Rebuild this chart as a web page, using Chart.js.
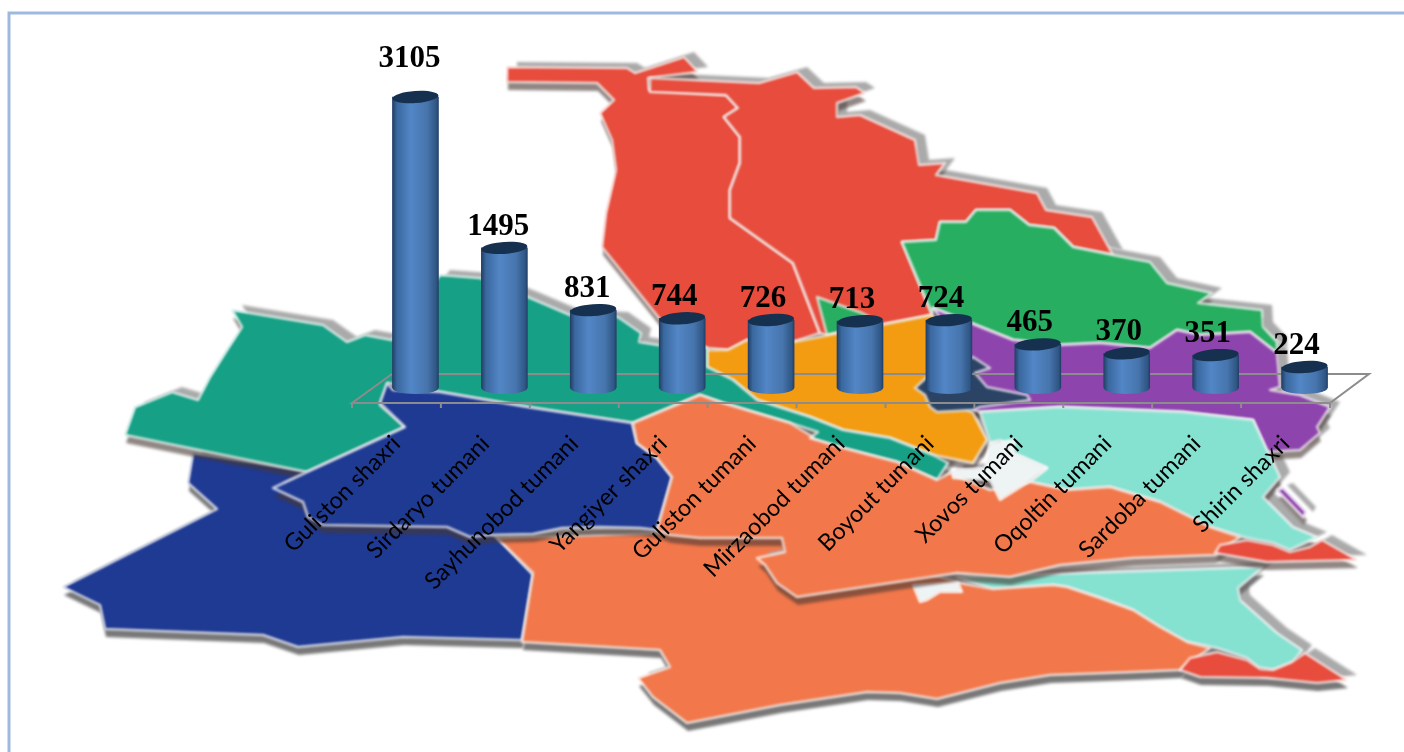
<!DOCTYPE html>
<html><head><meta charset="utf-8">
<style>html,body{margin:0;padding:0;background:#fff}canvas{display:block}</style>
<script src="https://cdn.jsdelivr.net/npm/chart.js@4"></script>
</head><body><canvas id="c" width="1404" height="752"></canvas>
<script>
const categories = ["Guliston shaxri","Sirdaryo tumani","Sayhunobod tumani","Yangiyer shaxri","Guliston tumani","Mirzaobod tumani","Boyout tumani","Xovos tumani","Oqoltin tumani","Sardoba tumani","Shirin shaxri"];
const values = [3105,1495,831,744,726,713,724,465,370,351,224];

/* Decorative background map (not data) */
const lowerMap = [
 ["#85e2d1",[[957,577],[1263,567],[1238,588],[1240,600],[1277,633],[1302,650],[1292,663],[1273,670],[1258,667],[1247,658],[1217,648],[1187,642],[1160,627],[1133,610],[1100,598],[1067,587],[1053,585],[993,589]]],
 ["#1f3a93",[[193,453],[188,483],[217,509],[63,587],[100,605],[105,629],[263,635],[298,647],[403,637],[517,640],[522,640],[533,575],[500,540],[480,525],[400,500],[300,470]]],
 ["#f2784b",[[497,538],[533,573],[522,642],[660,650],[670,667],[638,678],[653,697],[687,723],[780,705],[867,692],[900,693],[937,699],[1000,683],[1050,675],[1133,672],[1180,670],[1210,648],[1187,642],[1160,627],[1133,610],[1100,598],[1067,587],[1053,585],[993,589],[960,583],[900,565],[760,530]]],
 ["#e74c3c",[[1180,670],[1190,658],[1217,652],[1247,660],[1260,669],[1273,670],[1292,662],[1305,653],[1347,680],[1317,683],[1267,678],[1200,677]]],
 ["#eef3f4",[[913,585],[920,602],[927,600],[940,592],[962,592],[958,582]]]
];
const upperMap = [
 ["#e74c3c",[[507,67],[627,68],[635,73],[684,57],[698,72],[648,78],[649,90],[726,95],[738,108],[724,117],[740,137],[740,163],[730,190],[730,218],[793,263],[820,333],[793,342],[747,340],[728,350],[707,348],[663,323],[602,247],[606,213],[616,170],[612,140],[600,113],[614,100],[597,83],[507,82]]],
 ["#e74c3c",[[650,78],[759,83],[797,72],[814,88],[856,87],[865,93],[837,103],[837,117],[860,115],[915,140],[919,165],[945,163],[936,175],[1037,193],[1046,210],[1092,217],[1113,255],[1073,247],[1054,228],[1029,225],[1010,210],[976,210],[966,222],[940,222],[936,240],[902,242],[932,315],[827,335],[820,333],[793,263],[730,218],[730,190],[740,163],[740,137],[724,117],[738,108],[726,95],[650,92]]],
 ["#27ae60",[[817,297],[862,313],[880,322],[827,335]]],
 ["#27ae60",[[902,242],[936,240],[940,222],[966,222],[976,210],[1010,210],[1029,225],[1054,228],[1073,247],[1113,255],[1150,262],[1167,283],[1212,293],[1198,303],[1262,310],[1263,327],[1277,342],[1277,353],[1250,332],[1200,335],[1177,330],[1150,348],[1100,343],[1060,345],[1013,340],[933,308],[932,313]]],
 ["#8e44ad",[[933,308],[1013,340],[1060,345],[1100,343],[1150,348],[1177,330],[1200,335],[1250,332],[1277,353],[1280,387],[1270,390],[1300,395],[1330,407],[1317,427],[1320,433],[1300,450],[1267,452],[1253,420],[1183,412],[1060,407],[980,412],[950,400],[950,330]]],
 ["#f39c12",[[707,350],[728,350],[747,340],[793,342],[932,315],[950,340],[950,400],[973,413],[987,440],[973,463],[933,455],[890,438],[843,430],[810,417],[757,400],[733,380],[707,367]]],
 ["#16a085",[[232,310],[323,325],[347,342],[365,335],[392,340],[440,275],[480,278],[528,297],[570,315],[618,317],[641,333],[639,342],[658,345],[707,348],[707,367],[733,380],[757,400],[810,417],[843,430],[890,438],[933,455],[948,463],[937,480],[897,462],[843,448],[810,438],[818,432],[790,423],[723,403],[700,395],[633,423],[527,407],[440,392],[388,383],[380,405],[405,427],[307,472],[125,435],[135,407],[172,392],[198,400],[210,377],[227,350],[242,327]]],
 ["#85e2d1",[[980,412],[1060,407],[1183,412],[1253,420],[1267,450],[1280,477],[1263,497],[1293,527],[1317,537],[1290,550],[1273,543],[1247,538],[1210,527],[1160,502],[1110,487],[1067,490],[1030,482],[1047,468],[1013,453],[1000,440],[990,443]]],
 ["#1f3a93",[[387,383],[380,403],[405,427],[307,472],[273,488],[303,502],[308,517],[323,525],[447,527],[470,537],[490,535],[533,534],[562,528],[600,527],[640,528],[657,530],[672,477],[657,458],[637,443],[632,423],[527,407],[440,392],[393,390]]],
 ["#f2784b",[[633,423],[700,395],[723,403],[790,423],[813,437],[810,438],[843,448],[897,462],[937,480],[950,473],[990,490],[1030,482],[1067,490],[1110,487],[1160,502],[1210,527],[1240,537],[1217,553],[1215,555],[1133,558],[1060,565],[1010,577],[957,573],[890,583],[797,597],[777,583],[765,565],[757,558],[785,552],[782,538],[700,538],[670,535],[657,530],[672,477],[657,458],[637,443]]],
 ["#e74c3c",[[1215,553],[1220,545],[1247,540],[1273,545],[1290,552],[1310,547],[1322,540],[1357,560],[1267,562]]],
 ["#eef3f4",[[990,443],[1015,440],[1013,453],[1047,468],[1027,483],[1000,500],[990,480],[953,478],[953,470],[985,468]]],
 ["#2b4466",[[973,357],[990,368],[975,373],[987,387],[1027,395],[1030,400],[980,407],[973,410],[937,412],[930,407],[925,395],[915,388],[927,377]]],
 ["#8e44ad",[[1277,490],[1283,488],[1306,512],[1303,517]]]
];

function tracePoly(ctx, pts, dx, dy){
  ctx.beginPath();
  pts.forEach((p,i)=> i?ctx.lineTo(p[0]+dx,p[1]+dy):ctx.moveTo(p[0]+dx,p[1]+dy));
  ctx.closePath();
}
function paintLayer(ctx, shapes, bottomShade){
  ctx.save();
  ctx.filter='blur(1.6px)';
  ctx.fillStyle='rgba(165,165,165,.95)';
  shapes.forEach(s=>{tracePoly(ctx,s[1],10,-5);ctx.fill();});
  ctx.fillStyle=bottomShade;
  shapes.forEach(s=>{tracePoly(ctx,s[1],1,8);ctx.fill();});
  ctx.filter='blur(1px)';
  shapes.forEach(s=>{
    tracePoly(ctx,s[1],0,0);
    ctx.fillStyle=s[0];ctx.fill();
    ctx.strokeStyle='rgba(255,255,255,.7)';ctx.lineWidth=2.5;ctx.lineJoin='round';ctx.stroke();
  });
  ctx.restore();
}

const DEPTH_BACK = 14, DEPTH_FRONT = 15, SHIFT_X = 19, BAR_R = 23, CAP_RY = 6, CAP_TILT = -0.07;

const backdrop = {
  id:'backdrop',
  beforeDraw(chart){
    const ctx=chart.ctx;
    ctx.save();
    ctx.fillStyle='#fff';ctx.fillRect(0,0,1404,752);
    paintLayer(ctx,lowerMap,'rgba(105,105,105,.9)');
    paintLayer(ctx,upperMap,'rgba(70,55,50,.6)');
    ctx.strokeStyle='#9db9de';ctx.lineWidth=3;
    ctx.beginPath();ctx.moveTo(9,752);ctx.lineTo(9,13);ctx.lineTo(1404,13);ctx.stroke();
    ctx.restore();
  },
  beforeDatasetsDraw(chart){
    const ctx=chart.ctx,x=chart.scales.x,y=chart.scales.y;
    const y0=y.getPixelForValue(0), front=y0+DEPTH_FRONT, back=y0-DEPTH_BACK;
    const step=(x.right-x.left)/categories.length;
    const fl=x.left-SHIFT_X, fr=x.right-SHIFT_X, bl=x.left+SHIFT_X+2, br=x.right+SHIFT_X+1;
    ctx.save();
    ctx.strokeStyle='#8c8c8c';ctx.lineWidth=2;
    ctx.beginPath();
    ctx.moveTo(bl,back);ctx.lineTo(br,back);ctx.lineTo(fr,front);ctx.lineTo(fl,front);ctx.lineTo(bl,back);
    for(let i=0;i<=categories.length;i++){const t=fl+i*step;ctx.moveTo(t,front);ctx.lineTo(t,front+5);}
    ctx.stroke();
    ctx.restore();
  },
  afterDatasetsDraw(chart){
    const ctx=chart.ctx,meta=chart.getDatasetMeta(0),y=chart.scales.y;
    const y0=y.getPixelForValue(0);
    ctx.save();
    meta.data.forEach((b,i)=>{
      ctx.fillStyle=barGradient(ctx,b.x);
      ctx.beginPath();ctx.ellipse(b.x,y0,BAR_R,CAP_RY,0,0,Math.PI);ctx.fill();
      ctx.fillStyle='#16304f';
      ctx.beginPath();ctx.ellipse(b.x,b.y,BAR_R,CAP_RY,CAP_TILT,0,Math.PI*2);ctx.fill();
      ctx.fillStyle='#000';
      ctx.font='bold 31px "Liberation Serif"';
      ctx.textAlign='center';ctx.textBaseline='middle';
      ctx.fillText(String(values[i]),b.x-(i<3?6:8),b.y-(i===0?38:21));
    });
    ctx.restore();
  }
};
function barGradient(ctx,cx){
  const g=ctx.createLinearGradient(cx-BAR_R,0,cx+BAR_R,0);
  g.addColorStop(0,'#223f66');
  g.addColorStop(.1,'#3a689f');
  g.addColorStop(.4,'#5286c6');
  g.addColorStop(.75,'#4775ad');
  g.addColorStop(.95,'#2f5685');
  g.addColorStop(1,'#223f66');
  return g;
}

new Chart(document.getElementById('c').getContext('2d'),{
  type:'bar',
  data:{labels:categories,datasets:[{
    data:values,
    barThickness:BAR_R*2,
    backgroundColor(c){
      const x=c.chart.scales.x;
      const px=x?x.getPixelForValue(c.dataIndex):NaN;
      return Number.isFinite(px)?barGradient(c.chart.ctx,px):'#4f81bd';
    }
  }]},
  options:{
    responsive:false,animation:false,
    layout:{padding:{left:371,right:55,top:60,bottom:0}},
    plugins:{legend:{display:false},tooltip:{enabled:false}},
    scales:{
      y:{display:false,min:0,max:3500},
      x:{
        grid:{display:false},border:{display:false},
        afterFit(s){s.height=364;},
        ticks:{autoSkip:false,minRotation:45,maxRotation:45,padding:34,labelOffset:-19,color:'#000',
          font:{family:'Lato',size:23.5}}
      }
    }
  },
  plugins:[backdrop]
});
</script></body></html>
